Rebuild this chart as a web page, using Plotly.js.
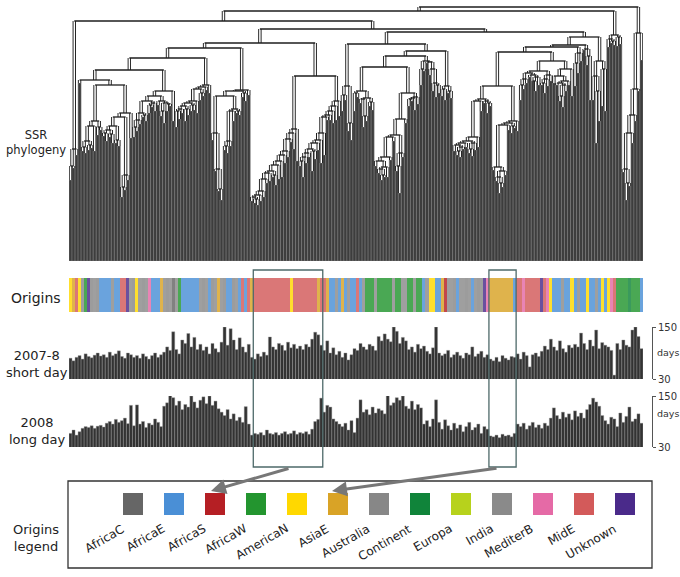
<!DOCTYPE html>
<html><head><meta charset="utf-8">
<script src="https://cdn.plot.ly/plotly-3.0.1.min.js"></script>
<style>html,body{margin:0;padding:0;background:#fff}#chart{width:680px;height:577px}</style>
</head><body><div id="chart"></div>
<script>
// ---- SSR phylogeny: terminal (dark) heights of each leaf, and join height between neighbouring leaves
const leafTop = [
 81,93,106,
 178,110,108,111,113,110,126,131,
 125,120,124,118,118,115,64,71,81,123,
 124,130,137,144,140,148,154,150,156,145,138,150,155,140,
 134,142,148,140,146,150,151,148,161,165,171,168,
 121,90,70,61,111,108,115,140,148,146,164,160,166,
 60,58,56,60,64,78,80,84,76,82,84,98,104,119,112,100,95,84,98,104,90,102,111,98,106,141,141,138,141,145,
 150,161,130,121,150,164,158,134,140,155,151,95,88,81,84,84,101,120,90,68,104,138,155,160,151,157,176,190,198,186,170,164,168,165,161,168,163,
 110,106,104,112,114,108,105,111,114,150,158,148,155,91,80,68,74,86,131,128,133,130,
 161,172,178,184,180,170,176,176,168,175,180,178,176,160,154,170,176,165,175,188,200,211,196,161,161,118,140,155,150,
 214,218,216,215,217,
 89,61,75,118,140,170,201
];
const joinHeight = [
 95,112,240,
 181,114,120,116,135,140,134,176,
 128,131,127,135,121,144,74,86,148,191,
 134,141,148,146,160,156,158,165,160,150,158,157,170,203,
 150,152,155,152,158,156,160,172,168,174,176,213,
 128,92,72,165,115,120,150,152,150,170,168,171,218,
 64,62,66,70,82,88,90,86,96,100,106,110,122,128,132,185,100,104,108,112,110,118,121,128,144,146,150,155,160,232,
 166,175,138,217,168,170,162,145,163,159,194,100,92,86,94,104,124,126,95,108,142,168,162,163,164,205,192,200,199,192,178,176,210,172,175,170,229,
 116,110,114,118,120,112,118,124,160,162,160,158,175,94,84,78,90,136,138,135,140,209,
 176,182,188,186,180,184,190,178,182,186,200,185,178,165,176,180,192,214,198,208,216,212,205,224,185,170,200,192,250,
 222,220,226,224,254,
 92,78,128,146,172,228
];
// ---- flowering time (days)
const shortDay = [
 78,72,80,84,76,88,82,79,85,90,83,
 86,80,92,84,88,95,82,78,90,86,
 80,84,78,88,82,76,84,90,80,86,
 92,104,96,139,98,88,
 120,112,135,104,126,98,110,
 96,104,88,112,100,92,115,150,108,146,120,98,125,104,92,110,
 80,76,88,82,92,85,
 127,104,98,112,108,96,115,102,110,100,106,
 98,110,104,122,138,132,108,
 96,118,90,102,86,94,
 80,90,74,86,
 100,96,112,104,98,110,106,96,
 128,118,134,122,116,150,140,112,126,118,
 98,104,92,110,100,106,94,88,102,
 150,
 90,84,88,96,80,86,92,84,78,90,86,104,82,88,94,80,86,
 76,72,80,70,84,78,74,82,80,
 88,76,92,84,58,86,90,82,
 94,106,98,122,104,96,118,100,92,108,102,
 110,104,136,112,98,120,106,143,100,114,108,
 104,96,39,112,
 98,120,108,104,143,150,128,100
];
const longDay = [
 62,70,58,66,74,
 78,76,80,74,79,81,77,
 86,90,84,95,88,92,98,85,128,
 80,129,84,90,76,86,82,96,88,78,
 126,134,152,146,128,138,
 118,130,124,150,136,122,140,
 148,132,150,128,138,120,
 112,104,118,96,108,92,100,88,125,84,
 58,62,60,64,58,70,62,60,64,58,62,66,60,62,68,60,64,62,66,60,72,90,95,
 145,112,128,124,96,90,84,
 78,86,70,92,64,98,141,
 112,118,106,124,110,120,116,108,152,
 128,134,146,140,150,126,120,138,118,130,122,
 84,92,78,96,141,88,72,94,80,70,86,
 74,82,66,78,88,70,76,84,62,78,72,
 56,54,58,52,60,56,58,54,62,
 84,78,86,72,80,88,76,82,74,86,80,
 98,122,104,96,112,100,108,94,115,102,110,98,118,
 130,145,136,126,104,
 92,84,100,96,78,110,88,102,124,90,96,108,86
];
// ---- origin of each leaf (one code per leaf)
const originCodes = (
 "NAMNIWKUIU" + "EEEEIEE" + "MMKIUNIUIB" + "EEEAIUICIW" + "EEEEEEIUIE" +
 "UIAIUEEUIE" + "MEMA" + "MMMMMMMMMMMMNMMMMMMMMAM" + "MAEEIEAEIE" + "EMEI" +
 "WWWIWWWWWIWWIIWWIWW" + "EINNEEASI" + "IUEIIUIEIUIKB" + "AAAAAAAAE" +
 "MMBMMMMMKMBN" + "EEEIEENEIE" + "ENEEIENENBM" + "WWWWOWWWE").split("");
const originKeys   = ["C","E","S","W","N","A","U","O","R","I","B","M","K"];
const originNames  = ["AfricaC","AfricaE","AfricaS","AfricaW","AmericaN","AsiaE","Australia","Continent","Europa","India","MediterB","MidE","Unknown"];
const originColors = ["#666666","#4a8fd6","#b51f24","#23952f","#ffd800","#d9a326","#878787","#10843a","#b7d21c","#8a8a8a","#e56aa6","#d35a5a","#4a2a8a"];
// highlighted groups (leaf index ranges) and the legend entry they point to
const highlightRanges = [[61,83],[139,147]];
const highlightTargets = ["AfricaS","AsiaE"];

const N = leafTop.length;
const idx = Array.from({length:N},(_,i)=>i);
function parentH(i){
  const a = i>0 ? joinHeight[i-1] : Infinity;
  const b = i<N-1 ? joinHeight[i] : Infinity;
  return Math.min(a,b);
}
const darkTop = idx.map(i=>Math.min(leafTop[i], parentH(i)));
const vx=[],vy=[],hx=[],hy=[];
function build(lo,hi){
  if(lo===hi) return {x:lo,h:darkTop[lo]};
  let M=-Infinity;
  for(let k=lo;k<hi;k++) if(joinHeight[k]>M) M=joinHeight[k];
  const kids=[]; let s=lo;
  for(let k=lo;k<hi;k++){ if(joinHeight[k]===M){ kids.push(build(s,k)); s=k+1; } }
  kids.push(build(s,hi));
  kids.forEach(c=>{ if(M>c.h){ vx.push(c.x,c.x,null); vy.push(c.h,M,null); } });
  const x0=kids[0].x, x1=kids[kids.length-1].x;
  hx.push(x0,x1,null); hy.push(M,M,null);
  return {x:(x0+x1)/2,h:M};
}
build(0,N-1);

const colorOf = c => originColors[originKeys.indexOf(c)];
const W=680,H=577;
const px = v=>v/W, py = v=>1-v/H;
const FONT = "DejaVu Sans, Verdana, sans-serif";

const traces = [
  {type:"bar",x:idx,y:darkTop,xaxis:"x",yaxis:"y",width:1,
   marker:{color:"#3d3d3d",line:{color:"#7d7d7d",width:0.5}},hoverinfo:"skip"},
  {type:"scatter",mode:"lines",x:vx,y:vy,xaxis:"x",yaxis:"y",line:{color:"#1e1e1e",width:3.4},hoverinfo:"skip",connectgaps:false},
  {type:"scatter",mode:"lines",x:vx,y:vy,xaxis:"x",yaxis:"y",line:{color:"#ffffff",width:1.5},hoverinfo:"skip",connectgaps:false},
  {type:"scatter",mode:"lines",x:hx,y:hy,xaxis:"x",yaxis:"y",line:{color:"#1e1e1e",width:1.3},hoverinfo:"skip",connectgaps:false},
  {type:"bar",x:idx,y:idx.map(()=>1),xaxis:"x",yaxis:"y2",width:1,opacity:0.82,
   marker:{color:originCodes.map(colorOf),line:{width:0}},hoverinfo:"skip"},
  {type:"bar",x:idx,y:shortDay,xaxis:"x",yaxis:"y3",width:1,
   marker:{color:"#333333",line:{color:"#9a9a9a",width:0.4}},hoverinfo:"skip"},
  {type:"bar",x:idx,y:longDay,xaxis:"x",yaxis:"y4",width:1,
   marker:{color:"#333333",line:{color:"#9a9a9a",width:0.4}},hoverinfo:"skip"}
];

const hidden = {visible:false,showgrid:false,zeroline:false,fixedrange:true};
const dayAxis = (dom)=>({domain:dom,range:[30,150],side:"right",anchor:"free",position:px(652),
  showline:true,linecolor:"#555",linewidth:1,ticks:"outside",ticklen:3,tickcolor:"#555",
  tickvals:[30,150],ticktext:["30","150"],showgrid:false,zeroline:false,
  tickfont:{family:FONT,size:10,color:"#333"}});

const shapes = [];
const annotations = [];
highlightRanges.forEach(r=>{
  shapes.push({type:"rect",xref:"x",yref:"paper",x0:r[0]-0.5,x1:r[1]+0.5,y0:py(467),y1:py(270),
    line:{color:"#4e6969",width:1.3},fillcolor:"rgba(0,0,0,0)"});
});
// legend box
shapes.push({type:"rect",xref:"paper",yref:"paper",x0:px(68),x1:px(652),y0:py(568),y1:py(481),
  line:{color:"#333",width:1.3},fillcolor:"rgba(0,0,0,0)"});
const swX = k=>123+k*41;
originNames.forEach((name,k)=>{
  shapes.push({type:"rect",xref:"paper",yref:"paper",x0:px(swX(k)),x1:px(swX(k)+20),y0:py(515),y1:py(493),
    fillcolor:originColors[k],line:{width:0}});
  annotations.push({xref:"paper",yref:"paper",x:px(swX(k)+6),y:py(519),text:name,showarrow:false,
    textangle:-30,xanchor:"right",yanchor:"top",font:{family:FONT,size:12,color:"#222"}});
});
// arrows from highlighted boxes to legend swatches
highlightRanges.forEach((r,j)=>{
  const k = originNames.indexOf(highlightTargets[j]);
  const tailX = j===0 ? 290 : 498;
  const headX = swX(k)+ (j===0?6:4), headY = 491;
  annotations.push({xref:"paper",yref:"paper",x:px(headX),y:py(headY),ax:tailX-headX,ay:468-headY,
    text:"",showarrow:true,arrowhead:2,arrowsize:1,arrowwidth:3,arrowcolor:"#777"});
});
const label=(t,x,y,s)=>annotations.push({xref:"paper",yref:"paper",x:px(x),y:py(y),text:t,showarrow:false,
  xanchor:"center",yanchor:"middle",font:{family:FONT,size:s,color:"#222"}});
label("SSR<br>phylogeny",36,142,11.5);
label("Origins",36,298,14);
label("2007-8<br>short day",37,364,13);
label("2008<br>long day",37,431,13);
label("Origins<br>legend",36,538,13);
annotations.push({xref:"paper",yref:"paper",x:px(655),y:py(353),text:"days",showarrow:false,xanchor:"left",font:{family:FONT,size:9.5,color:"#333"}});
annotations.push({xref:"paper",yref:"paper",x:px(655),y:py(421),text:"days",showarrow:false,xanchor:"left",font:{family:FONT,size:9.5,color:"#333"}});

const layout = {
  width:W,height:H,margin:{l:0,r:0,t:0,b:0},paper_bgcolor:"#fff",plot_bgcolor:"rgba(0,0,0,0)",
  showlegend:false,bargap:0,barmode:"overlay",
  xaxis:Object.assign({},hidden,{domain:[px(69),px(643)],range:[-0.5,N-0.5]}),
  yaxis:Object.assign({},hidden,{domain:[py(261),py(5)],range:[0,256]}),
  yaxis2:Object.assign({},hidden,{domain:[py(312),py(278)],range:[0,1]}),
  yaxis3:dayAxis([py(379),py(327)]),
  yaxis4:dayAxis([py(447),py(396)]),
  shapes:shapes,annotations:annotations
};
Plotly.newPlot("chart",traces,layout,{staticPlot:true});
</script></body></html>
